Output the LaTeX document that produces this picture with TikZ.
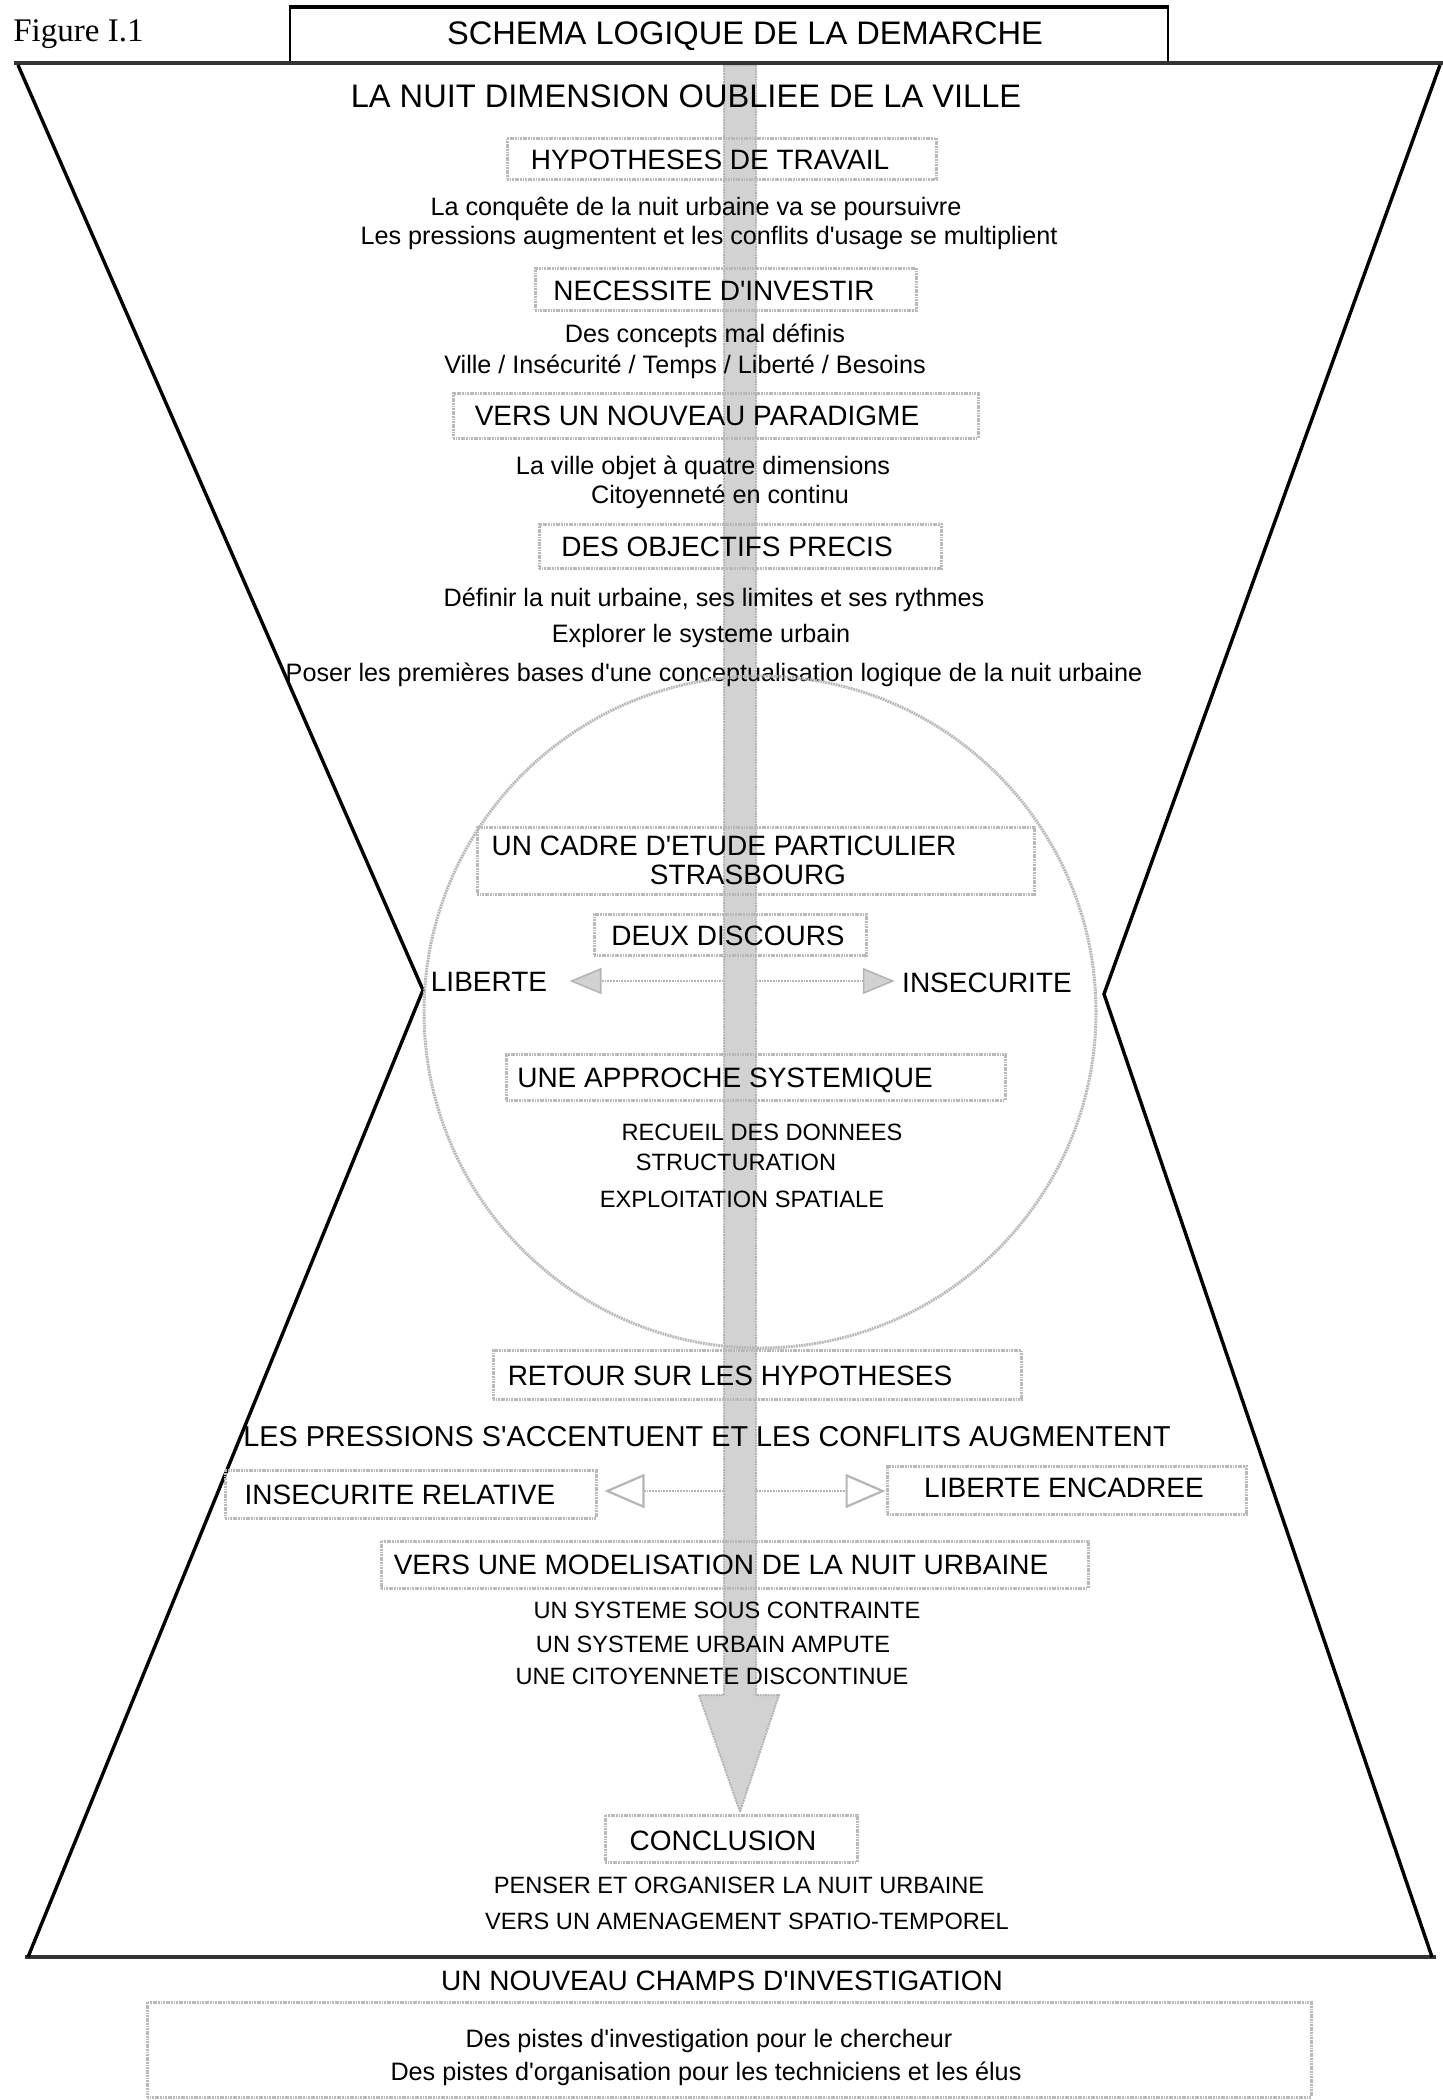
\documentclass[tikz,border=0pt]{standalone}
\usepackage{fontspec}
\setmainfont{Liberation Sans}[Ligatures=TeXOff]
\newfontfamily\figfont{Liberation Serif}
\usetikzlibrary{arrows.meta,fit,calc}
\begin{document}
\begin{tikzpicture}[x=0.5pt,y=-0.5pt,
  every node/.style={inner sep=0pt},
  big/.style={font=\fontsize{16.3}{19}\selectfont, text height=11.67pt, text depth=0pt},
  boxtxt/.style={font=\fontsize{14}{17}\selectfont, text height=10.02pt, text depth=0pt},
  body/.style={font=\fontsize{12.6}{15}\selectfont, text height=9.02pt, text depth=0pt},
  small/.style={font=\fontsize{11.8}{14}\selectfont, text height=8.45pt, text depth=0pt},
  stip/.style={draw=gray!55, line width=1.5pt, dash pattern=on 0.9pt off 0.4pt},
  boxst/.style={stip, inner sep=0pt},
  hour/.style={draw=black, line width=1.7pt, line join=miter},
  edge/.style={draw=black!80, line width=2.2pt},
  shaft/.style={fill=gray!35, draw=gray!58, line width=1pt, dash pattern=on 0.9pt off 0.45pt},
  sidearrow/.style={draw=gray!58, line width=1.3pt, dash pattern=on 0.9pt off 0.5pt,
     -{Triangle[length=16pt,width=13pt,fill=gray!35,line width=0.8pt]}},
  openarrow/.style={draw=gray!58, line width=1.3pt, dash pattern=on 0.9pt off 0.5pt,
     -{Triangle[open,length=20pt,width=17pt,line width=1.1pt]}},
]
\useasboundingbox (0,0) rectangle (1443,2100);

% central shaft (drawn first, behind everything)
\coordinate (shafttop) at (740,65);
\coordinate (tip) at (740,1812);
\path[shaft] ($(shafttop)+(-16,0)$) -- ($(tip)+(-16,-117)$) -- ($(tip)+(-41,-117)$) -- (tip)
   -- ($(tip)+(39,-117)$) -- ($(tip)+(16,-117)$) -- ($(shafttop)+(16,0)$) -- cycle;

% header
\node[anchor=west, font=\figfont\fontsize{16.5}{20}\selectfont, text height=10.9pt, text depth=0pt] (fig) at (13,31) {Figure I.1};
\node[draw=black, line width=0.8pt, fit={(290,8) (1168,63)}] (titlebox) {};
\draw[line width=1.8pt] (titlebox.north west) -- (titlebox.north east);
\node[big] (title) at (745,33) {SCHEMA LOGIQUE DE LA DEMARCHE};

% hourglass
\draw[edge] (14,63) -- (1443,63);
\draw[edge] (25,1957) -- (1436,1957);
\draw[hour] (18,65) -- (423,990) -- (28,1957);
\draw[hour] (1440,65) -- (1104,994) -- (1432,1957);

\node[big] (nuit) at (686,96) {LA NUIT DIMENSION OUBLIEE DE LA VILLE};

\node[boxst, fit={(507,138) (936,179)}] (hyp) {};
\node[boxtxt] (hypt) at (710,159) {HYPOTHESES DE TRAVAIL};
\node[body] (h1) at (696,206) {La conquête de la nuit urbaine va se poursuivre};
\node[body] (h2) at (709,235) {Les pressions augmentent et les conflits d'usage se multiplient};

\node[boxst, fit={(535,268) (916,310)}] (nec) {};
\node[boxtxt] (nect) at (714,290) {NECESSITE D'INVESTIR};
\node[body] (n1) at (705,333) {Des concepts mal définis};
\node[body] (n2) at (685,364) {Ville / Insécurité / Temps / Liberté / Besoins};

\node[boxst, fit={(453,393) (978,438)}] (par) {};
\node[boxtxt] (part) at (697,415) {VERS UN NOUVEAU PARADIGME};
\node[body] (p1) at (703,465) {La ville objet à quatre dimensions};
\node[body] (p2) at (720,494) {Citoyenneté en continu};

\node[boxst, fit={(539,524) (941,568)}] (obj) {};
\node[boxtxt] (objt) at (727,546) {DES OBJECTIFS PRECIS};
\node[body] (o1) at (714,597) {Définir la nuit urbaine, ses limites et ses rythmes};
\node[body] (o2) at (701,633) {Explorer le systeme urbain};
\node[body] (o3) at (714,672) {Poser les premières bases d'une conceptualisation logique de la nuit urbaine};

% circle
\node[stip, circle, minimum size=336pt] (circ) at (760,1012) {};

\node[boxst, fit={(477,827) (1034,894)}] (cadre) {};
\node[boxtxt] (cadre1) at (724,845) {UN CADRE D'ETUDE PARTICULIER};
\node[boxtxt] (cadre2) at (748,874) {STRASBOURG};

\node[boxst, fit={(594,914) (866,955)}] (deux) {};
\node[boxtxt] (deuxt) at (728,935) {DEUX DISCOURS};
\node[boxtxt] (lib) at (489,981) {LIBERTE};
\node[boxtxt] (insec) at (987,982) {INSECURITE};
\coordinate (dl) at (724,981);
\coordinate (dr) at (756,981);
\draw[sidearrow, shorten >=11pt] (dl) -- (dl -| lib.east);
\draw[sidearrow, shorten >=3.5pt] (dr) -- (dr -| insec.west);

\node[boxst, fit={(506,1054) (1005,1100)}] (sys) {};
\node[boxtxt] (syst) at (725,1077) {UNE APPROCHE SYSTEMIQUE};
\node[small] (s1) at (762,1132) {RECUEIL DES DONNEES};
\node[small] (s2) at (736,1162) {STRUCTURATION};
\node[small] (s3) at (742,1199) {EXPLOITATION SPATIALE};

\node[boxst, fit={(493,1350) (1021,1399)}] (ret) {};
\node[boxtxt] (rett) at (730,1375) {RETOUR SUR LES HYPOTHESES};
\node[boxtxt, font=\fontsize{14.4}{17}\selectfont] (press) at (707,1436) {LES PRESSIONS S'ACCENTUENT ET LES CONFLITS AUGMENTENT};

\node[boxst, fit={(225,1470) (596,1518)}] (ir) {};
\node[boxtxt] (irt) at (400,1494) {INSECURITE RELATIVE};
\node[boxst, fit={(887,1466) (1246,1514)}] (le) {};
\node[boxtxt] (let) at (1064,1487) {LIBERTE ENCADREE};
\coordinate (bl) at (724,1491);
\coordinate (br) at (756,1491);
\draw[openarrow, shorten >=3.5pt] (bl) -- (bl -| ir.east);
\draw[openarrow] (br) -- (br -| le.west);

\node[boxst, fit={(381,1541) (1088,1588)}] (mod) {};
\node[boxtxt] (modt) at (721,1564) {VERS UNE MODELISATION DE LA NUIT URBAINE};
\node[small] (m1) at (727,1610) {UN SYSTEME SOUS CONTRAINTE};
\node[small] (m2) at (713,1644) {UN SYSTEME URBAIN AMPUTE};
\node[small] (m3) at (712,1676) {UNE CITOYENNETE DISCONTINUE};

\node[boxst, fit={(605,1815) (857,1862)}] (concl) {};
\node[boxtxt] (conclt) at (723,1840) {CONCLUSION};
\node[small] (c1) at (739,1885) {PENSER ET ORGANISER LA NUIT URBAINE};
\node[small] (c2) at (747,1921) {VERS UN AMENAGEMENT SPATIO-TEMPOREL};

\node[boxtxt] (champ) at (722,1980) {UN NOUVEAU CHAMPS D'INVESTIGATION};
\node[boxst, fit={(147,2002) (1311,2097)}] (pistes) {};
\node[body] (pi1) at (709,2038) {Des pistes d'investigation pour le chercheur};
\node[body] (pi2) at (706,2071) {Des pistes d'organisation pour les techniciens et les élus};
\end{tikzpicture}
\end{document}
